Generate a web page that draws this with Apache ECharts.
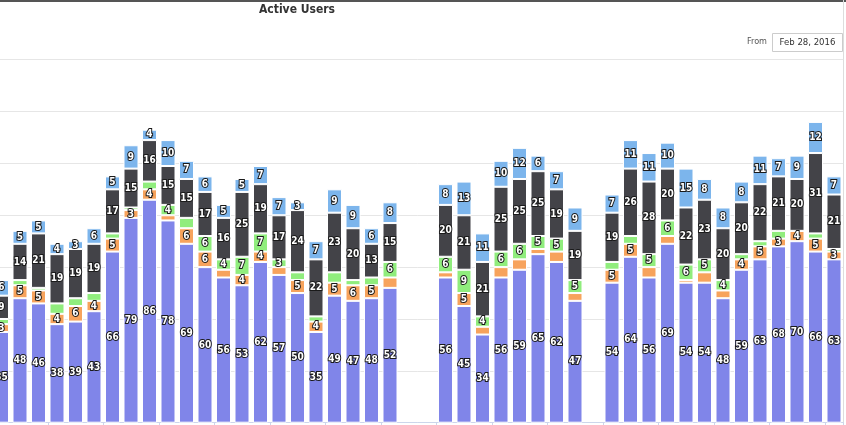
<!DOCTYPE html>
<html>
<head>
<meta charset="utf-8">
<script src="https://cdn.jsdelivr.net/npm/echarts@6/dist/echarts.min.js"></script>
<style>
  html, body { margin: 0; padding: 0; background: #fff; overflow: hidden; }
  #wrap { position: relative; width: 846px; height: 425px; overflow: hidden; }
  /* the plot starts a few pixels left of the visible frame, so the first column is clipped */
  #chart { position: absolute; left: -8px; top: 0; width: 854px; height: 425px; }
</style>
</head>
<body>
<div id="wrap"><div id="chart"></div></div>
<script>
// Daily active users, stacked by user group (bottom to top)
const days = [
  'Feb 28','Feb 29','Mar 1','Mar 2','Mar 3','Mar 4','Mar 5','Mar 6','Mar 7','Mar 8',
  'Mar 9','Mar 10','Mar 11','Mar 12','Mar 13','Mar 14','Mar 15','Mar 16','Mar 17','Mar 18',
  'Mar 19','Mar 20','Mar 21','Mar 22','Mar 23','Mar 24','Mar 25','Mar 26','Mar 27','Mar 28',
  'Mar 29','Mar 30','Mar 31','Apr 1','Apr 2','Apr 3','Apr 4','Apr 5','Apr 6','Apr 7',
  'Apr 8','Apr 9','Apr 10','Apr 11','Apr 12','Apr 13'
];

const groupA = [35,48,46,38,39,43,66,79,86,78,69,60,56,53,62,57,50,35,49,47,48,52,null,null,56,45,34,56,59,65,62,47,null,54,64,56,69,54,54,48,59,63,68,70,66,63];
const groupB = [3,5,5,4,6,4,5,3,4,2,6,6,3,4,4,3,5,4,5,6,5,4,null,null,2,5,3,4,4,2,4,3,null,5,5,4,3,1,4,3,4,5,3,4,5,3];
const groupC = [2,2,1,4,3,3,2,1,3,4,4,6,4,7,7,3,3,2,4,2,3,6,null,null,6,9,4,6,6,5,5,5,null,3,3,5,6,6,5,4,2,2,3,0,2,1];
const groupD = [9,14,21,19,19,19,17,15,16,15,15,17,16,25,19,17,24,22,23,20,13,15,null,null,20,21,21,25,25,25,19,19,null,19,26,28,20,22,23,20,20,22,21,20,31,21];
const groupE = [6,5,5,4,3,6,5,9,4,10,7,6,5,5,7,7,3,7,9,9,6,8,null,null,8,13,11,10,12,6,7,9,null,7,11,11,10,15,8,8,8,11,7,9,12,7];

// Thin segments whose labels would collide stay unlabelled
const groupBHidden = [9,12,15,21,24,26,27,28,29,30,31,35,36,37,38,39];
const groupCShown = [9,11,12,13,14,15,21,24,25,26,27,28,29,30,31,35,36,37,38,39];

const colors = ['#8085e9', '#f7a35c', '#90ed7d', '#434348', '#7cb5ec'];
const font = '"DejaVu Sans Condensed", "DejaVu Sans", sans-serif';
const dx = 8; // chart canvas offset inside the frame

function makeSeries(name, data, color, showFn) {
  return {
    name: name,
    type: 'bar',
    stack: 'users',
    data: data,
    barWidth: 15,
    itemStyle: { color: color, borderColor: '#ffffff', borderWidth: 1 },
    label: {
      show: true,
      position: 'inside',
      color: '#ffffff',
      fontFamily: font,
      fontWeight: 'bold',
      fontSize: 10,
      textBorderColor: '#1a1a1a',
      textBorderWidth: 2,
      formatter: function (p) {
        if (p.value === null || p.value === 0) return '';
        return showFn(p.dataIndex) ? String(p.value) : '';
      }
    },
    emphasis: { disabled: true },
    animation: false
  };
}

const chart = echarts.init(document.getElementById('chart'), null, { renderer: 'canvas' });
chart.setOption({
  animation: false,
  backgroundColor: '#ffffff',
  grid: { left: 0.25, right: 2.75, top: 59.7, bottom: 2.3, containLabel: false },
  xAxis: {
    type: 'category',
    data: days,
    axisLine: { show: true, lineStyle: { color: '#ccd6eb', width: 1 } },
    axisTick: { show: true, length: 6, lineStyle: { color: '#ccd6eb' } },
    axisLabel: { show: false },
    splitLine: { show: false }
  },
  yAxis: {
    type: 'value',
    min: 0,
    max: 140,
    interval: 20,
    axisLabel: { show: false },
    axisLine: { show: false },
    axisTick: { show: false },
    splitLine: { show: true, lineStyle: { color: '#e6e6e6', width: 1 } }
  },
  series: [
    makeSeries('Group A', groupA, colors[0], function () { return true; }),
    makeSeries('Group B', groupB, colors[1], function (i) { return groupBHidden.indexOf(i) < 0; }),
    makeSeries('Group C', groupC, colors[2], function (i) { return groupCShown.indexOf(i) >= 0; }),
    makeSeries('Group D', groupD, colors[3], function () { return true; }),
    makeSeries('Group E', groupE, colors[4], function () { return true; })
  ],
  graphic: [
    { type: 'rect', left: 0, top: 0, shape: { width: 854, height: 2 }, style: { fill: '#555555' }, silent: true },
    { type: 'rect', left: 843 + dx, top: 0, shape: { width: 1, height: 425 }, style: { fill: '#dddddd' }, silent: true },
    {
      type: 'text', x: 297 + dx, y: 10,
      style: { text: 'Active Users', fill: '#333333', font: 'bold 12px ' + font, textAlign: 'center', textVerticalAlign: 'middle' },
      silent: true
    },
    {
      type: 'text', x: 767 + dx, y: 42,
      style: { text: 'From', fill: '#555555', font: '9px ' + font, textAlign: 'right', textVerticalAlign: 'middle' },
      silent: true
    },
    {
      type: 'rect', shape: { x: 772.5 + dx, y: 33.5, width: 70, height: 18 },
      style: { fill: '#ffffff', stroke: '#cccccc', lineWidth: 1 }, silent: true
    },
    {
      type: 'text', x: 807.5 + dx, y: 42.5,
      style: { text: 'Feb 28, 2016', fill: '#333333', font: '9.5px ' + font, textAlign: 'center', textVerticalAlign: 'middle' },
      silent: true
    }
  ]
});
</script>
</body>
</html>
